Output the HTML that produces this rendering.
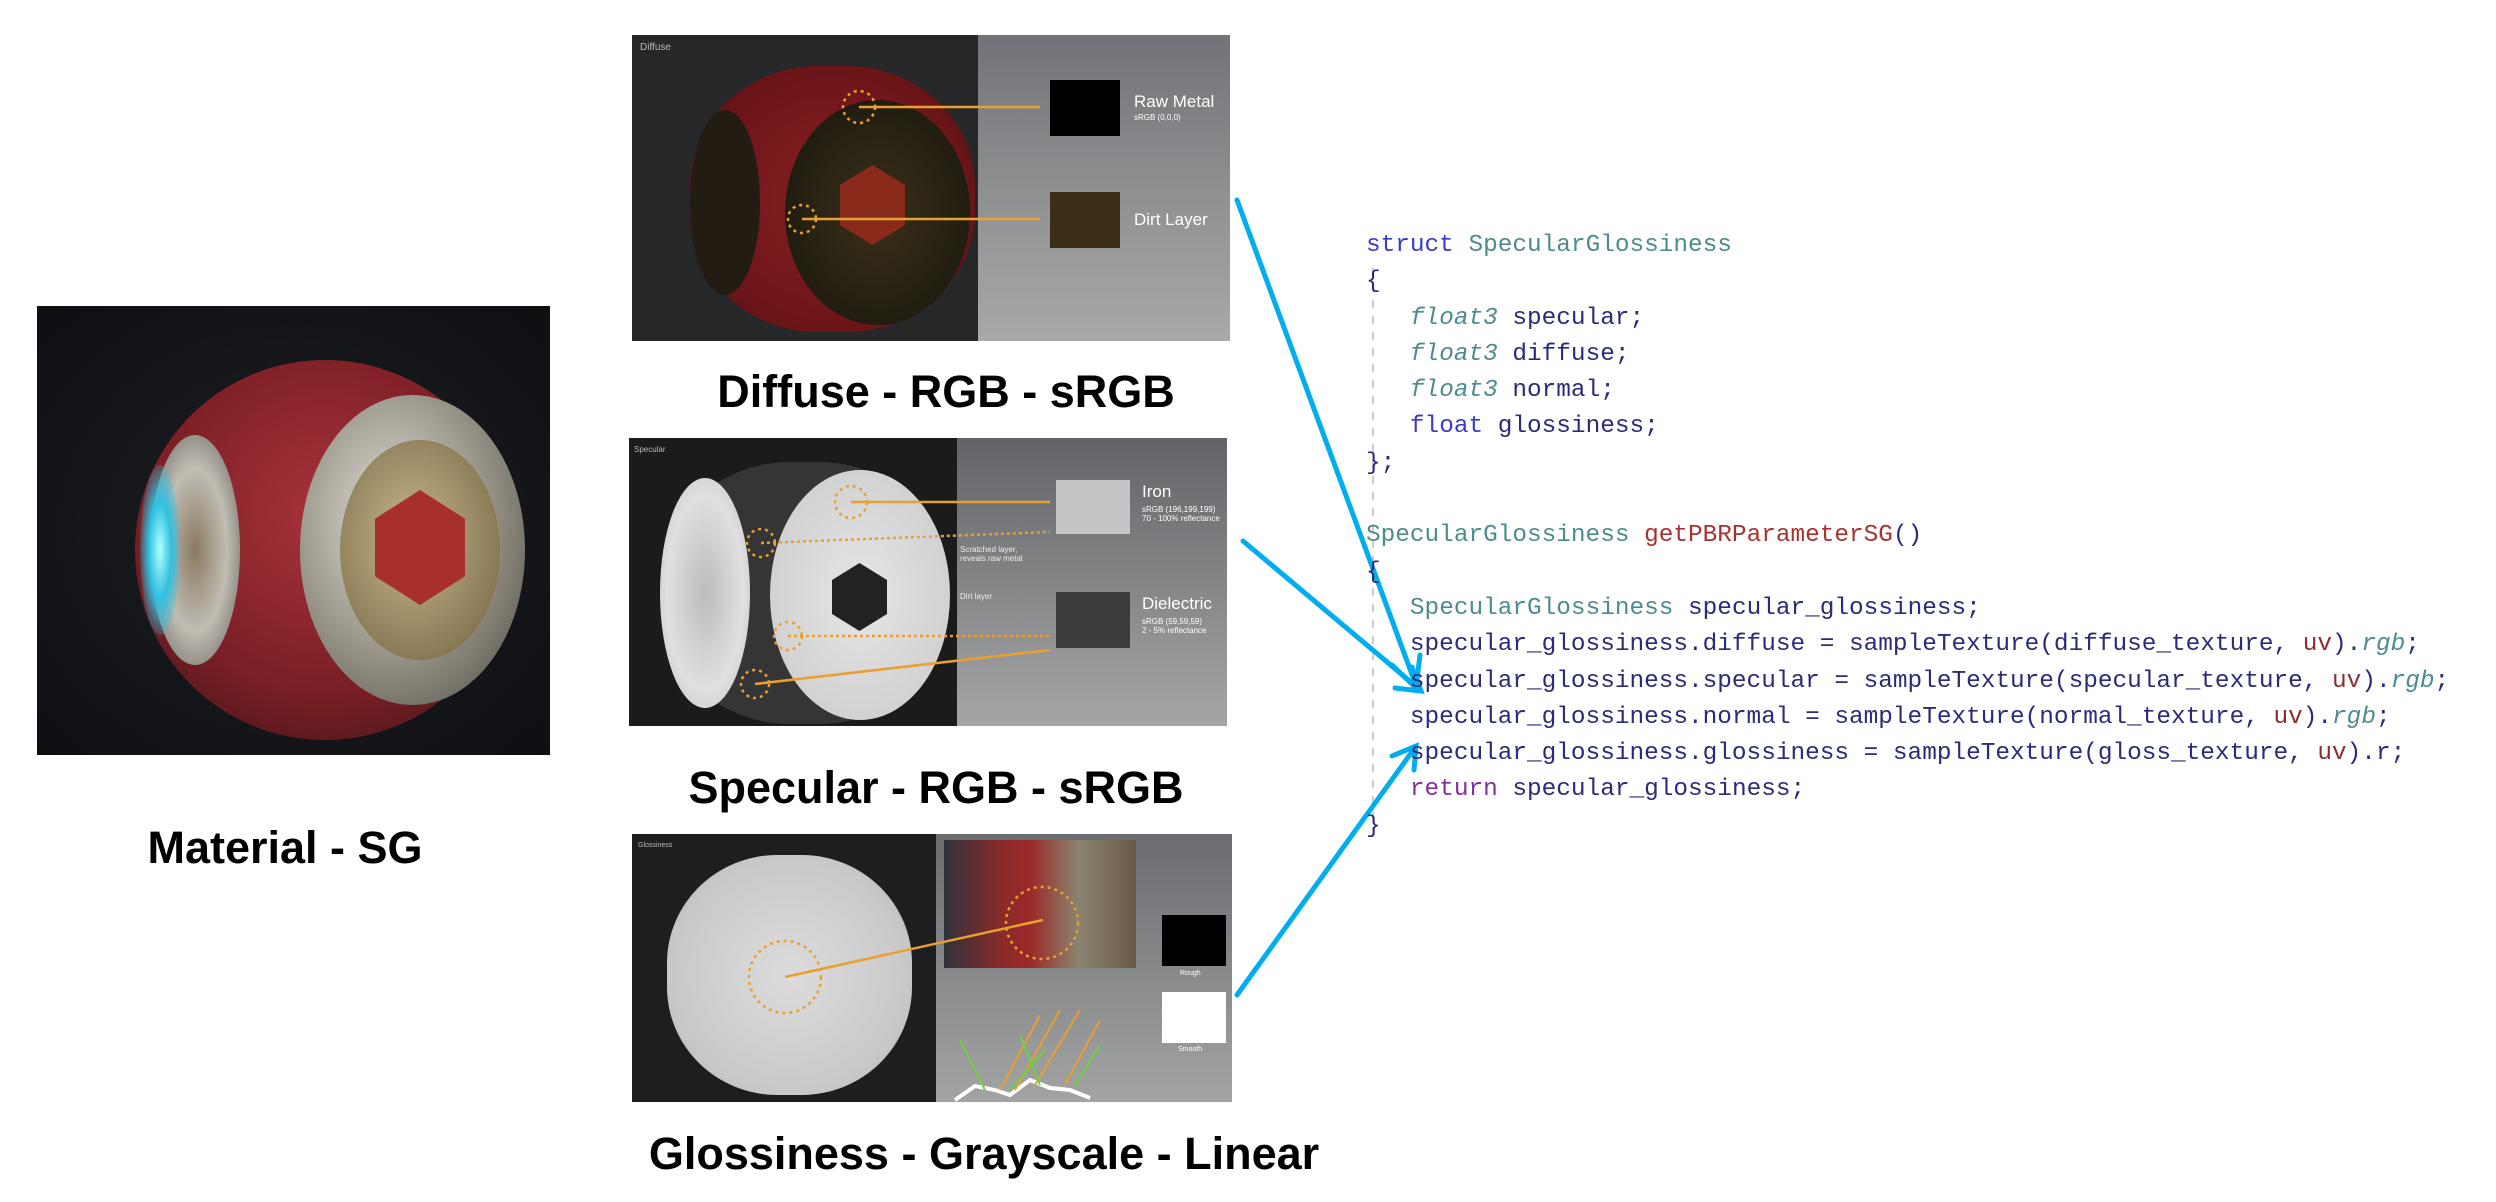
<!DOCTYPE html>
<html><head><meta charset="utf-8"><style>
*{margin:0;padding:0;box-sizing:border-box}
body{width:2496px;height:1202px;background:#fff;position:relative;overflow:hidden;font-family:"Liberation Sans",sans-serif}
.a{position:absolute}
.lbl{position:absolute;font-weight:bold;font-size:45px;color:#000;white-space:nowrap;transform:translateX(-50%)}
.code{position:absolute;left:1366px;top:228px;font-family:"Liberation Mono",monospace;font-size:24.4px;line-height:36.3px;color:#2b2b7a;white-space:pre}
.kw{color:#3a3acc}.ty{color:#4d8c8c}.it{color:#4d8c8c;font-style:italic}.fn{color:#a83232}.uv{color:#8b3030}.rt{color:#8030a0}
.sm{color:#fff;position:absolute;font-size:10px}
</style></head><body>

<!-- Material image -->
<div class="a" style="left:37px;top:306px;width:513px;height:449px;background:radial-gradient(ellipse at 50% 50%,#1e1f24 0%,#0e0f12 100%)"></div>
<div class="a" style="left:135px;top:360px;width:380px;height:380px;border-radius:50%;background:radial-gradient(circle at 50% 40%,#a8323a 0%,#7a1f25 60%,#3a1416 100%)"></div>
<div class="a" style="left:300px;top:395px;width:225px;height:310px;border-radius:50%;background:radial-gradient(ellipse at 40% 40%,#e0e0d8 0%,#9a968a 50%,#4a4842 100%)"></div>
<div class="a" style="left:340px;top:440px;width:160px;height:220px;border-radius:50%;background:radial-gradient(ellipse at 45% 45%,#c8b890 0%,#8a7a55 70%,#4a4030 100%)"></div>
<div class="a" style="left:375px;top:490px;width:90px;height:115px;background:#a8302c;clip-path:polygon(50% 0,100% 25%,100% 75%,50% 100%,0 75%,0 25%)"></div>
<div class="a" style="left:150px;top:435px;width:90px;height:230px;border-radius:50%;background:radial-gradient(ellipse at 50% 50%,#8a7a60 0%,#c0bdb4 50%,#5a5650 100%)"></div>
<div class="a" style="left:140px;top:465px;width:40px;height:170px;border-radius:50%;background:radial-gradient(ellipse,#b0ffff 0%,#30c0e0 40%,rgba(0,80,200,0) 80%)"></div>

<div class="lbl" style="left:285px;top:822px">Material - SG</div>

<!-- Diffuse panel -->
<div class="a" style="left:632px;top:35px;width:346px;height:306px;background:#262729"></div>
<div class="a" style="left:978px;top:35px;width:252px;height:306px;background:linear-gradient(#717378,#a8aaa9)"></div>
<div class="sm" style="left:640px;top:42px;color:#bbb">Diffuse</div>
<div class="a" style="left:690px;top:66px;width:285px;height:266px;border-radius:45%;background:radial-gradient(circle at 50% 50%,#8a1e22 0%,#6a1518 70%,#2a1410 100%)"></div>
<div class="a" style="left:785px;top:100px;width:185px;height:225px;border-radius:50%;background:radial-gradient(ellipse,#3a3018 0%,#1e1a10 80%)"></div>
<div class="a" style="left:840px;top:165px;width:65px;height:80px;background:#8a2a1a;clip-path:polygon(50% 0,100% 25%,100% 75%,50% 100%,0 75%,0 25%)"></div>
<div class="a" style="left:690px;top:110px;width:70px;height:185px;border-radius:50%;background:#221c12"></div>
<div class="a" style="left:1050px;top:80px;width:70px;height:56px;background:#000"></div>
<div class="a" style="left:1050px;top:192px;width:70px;height:56px;background:#3b2d17"></div>
<div class="a" style="left:1134px;top:92px;color:#fff;font-size:17px">Raw Metal</div>
<div class="sm" style="left:1134px;top:113px;font-size:8px">sRGB (0,0,0)</div>
<div class="a" style="left:1134px;top:210px;color:#fff;font-size:17px">Dirt Layer</div>

<div class="lbl" style="left:946px;top:366px">Diffuse - RGB - sRGB</div>

<!-- Specular panel -->
<div class="a" style="left:629px;top:438px;width:328px;height:288px;background:#1b1b1c"></div>
<div class="a" style="left:957px;top:438px;width:270px;height:288px;background:linear-gradient(#626468,#a4a6a6)"></div>
<div class="sm" style="left:634px;top:445px;font-size:8px;color:#bbb">Specular</div>
<div class="a" style="left:662px;top:462px;width:285px;height:262px;border-radius:45%;background:#353535"></div>
<div class="a" style="left:770px;top:470px;width:180px;height:250px;border-radius:50%;background:radial-gradient(ellipse,#e6e6e6 0%,#cfcfcf 80%,#aaa 100%)"></div>
<div class="a" style="left:660px;top:478px;width:90px;height:230px;border-radius:50%;background:radial-gradient(ellipse,#bcbcbc 0%,#e0e0e0 60%,#bbb 100%)"></div>
<div class="a" style="left:832px;top:563px;width:55px;height:68px;background:#222;clip-path:polygon(50% 0,100% 25%,100% 75%,50% 100%,0 75%,0 25%)"></div>
<div class="a" style="left:1056px;top:480px;width:74px;height:54px;background:#c4c6c6"></div>
<div class="a" style="left:1056px;top:592px;width:74px;height:56px;background:#3b3b3b"></div>
<div class="a" style="left:1142px;top:482px;color:#fff;font-size:17px">Iron</div>
<div class="sm" style="left:1142px;top:505px;font-size:8px">sRGB (196,199,199)<br>70 - 100% reflectance</div>
<div class="a" style="left:1142px;top:594px;color:#fff;font-size:17px">Dielectric</div>
<div class="sm" style="left:1142px;top:617px;font-size:8px">sRGB (59,59,59)<br>2 - 5% reflectance</div>
<div class="sm" style="left:960px;top:545px;font-size:8px;color:#eee">Scratched layer,<br>reveals raw metal</div>
<div class="sm" style="left:960px;top:592px;font-size:8px;color:#eee">Dirt layer</div>

<div class="lbl" style="left:936px;top:762px">Specular - RGB - sRGB</div>

<!-- Gloss panel -->
<div class="a" style="left:632px;top:834px;width:304px;height:268px;background:#1e1e20"></div>
<div class="a" style="left:936px;top:834px;width:296px;height:268px;background:linear-gradient(#6a6c70,#a2a4a4)"></div>
<div class="sm" style="left:638px;top:842px;font-size:7px;color:#bbb">Glossiness</div>
<div class="a" style="left:667px;top:855px;width:245px;height:240px;border-radius:45%;background:radial-gradient(circle,#dcdcdc 0%,#c8c8c8 70%,#9a9a9a 100%)"></div>
<div class="a" style="left:944px;top:840px;width:192px;height:128px;background:linear-gradient(90deg,#30323a 0%,#8a2a2a 30%,#9a2a28 45%,#8a8470 70%,#6a5a48 100%)"></div>
<div class="a" style="left:1162px;top:915px;width:64px;height:51px;background:#000"></div>
<div class="sm" style="left:1180px;top:970px;font-size:7px">Rough</div>
<div class="a" style="left:1162px;top:992px;width:64px;height:51px;background:#fff"></div>
<div class="sm" style="left:1178px;top:1046px;font-size:7px">Smooth</div>

<div class="lbl" style="left:984px;top:1128px">Glossiness - Grayscale - Linear</div>

<svg class="a" style="left:0;top:0" width="2496" height="1202">
<g stroke="#e8a030" stroke-width="2.5" fill="none">
<circle cx="859" cy="107" r="16" stroke-dasharray="3 4"/><line x1="859" y1="107" x2="1040" y2="107"/>
<circle cx="802" cy="219" r="14" stroke-dasharray="3 4"/><line x1="802" y1="219" x2="1040" y2="219"/>
<circle cx="851" cy="502" r="16" stroke-dasharray="3 4"/><line x1="851" y1="502" x2="1050" y2="502"/>
<circle cx="761" cy="543" r="14" stroke-dasharray="3 4"/><line x1="761" y1="543" x2="1050" y2="532" stroke-dasharray="3 3"/>
<circle cx="788" cy="636" r="14" stroke-dasharray="3 4"/><line x1="788" y1="636" x2="1050" y2="636" stroke-dasharray="3 3"/>
<circle cx="755" cy="684" r="14" stroke-dasharray="3 4"/><line x1="755" y1="684" x2="1050" y2="650"/>
<circle cx="785" cy="977" r="36" stroke-dasharray="3 4"/><line x1="785" y1="977" x2="1043" y2="920"/>
<circle cx="1042" cy="923" r="36" stroke-dasharray="3 4"/>
</g>
<polyline points="955,1100 975,1086 995,1090 1010,1095 1030,1080 1050,1088 1070,1090 1090,1098" stroke="#fff" stroke-width="4" fill="none"/>
<g stroke="#e8a030" stroke-width="2"><line x1="1000" y1="1090" x2="1040" y2="1015"/><line x1="1015" y1="1090" x2="1060" y2="1010"/><line x1="1035" y1="1085" x2="1080" y2="1010"/><line x1="1065" y1="1085" x2="1100" y2="1020"/></g>
<g stroke="#70d040" stroke-width="2"><line x1="985" y1="1090" x2="960" y2="1040"/><line x1="1010" y1="1090" x2="1045" y2="1050"/><line x1="1040" y1="1085" x2="1020" y2="1035"/><line x1="1075" y1="1085" x2="1100" y2="1045"/></g>
<line x1="1373" y1="268" x2="1373" y2="830" stroke="#bbb" stroke-width="1.5" stroke-dasharray="8 8"/>
<g stroke="#00aeef" stroke-width="5" fill="none" stroke-linecap="round">
<line x1="1237" y1="200" x2="1414" y2="680"/>
<polyline points="1392,665 1416,688 1420,655"/>
<line x1="1243" y1="541" x2="1418" y2="688"/>
<polyline points="1395,688 1421,691 1412,667"/>
<line x1="1237" y1="995" x2="1414" y2="749"/>
<polyline points="1392,756 1416,746 1414,770"/>
</g>
</svg>

<div class="code"><span class="kw">struct</span> <span class="ty">SpecularGlossiness</span>
{
   <span class="it">float3</span> specular;
   <span class="it">float3</span> diffuse;
   <span class="it">float3</span> normal;
   <span class="kw">float</span> glossiness;
};

<span class="ty">SpecularGlossiness</span> <span class="fn">getPBRParameterSG</span>()
{
   <span class="ty">SpecularGlossiness</span> specular_glossiness;
   specular_glossiness.diffuse = sampleTexture(diffuse_texture, <span class="uv">uv</span>).<span class="it">rgb</span>;
   specular_glossiness.specular = sampleTexture(specular_texture, <span class="uv">uv</span>).<span class="it">rgb</span>;
   specular_glossiness.normal = sampleTexture(normal_texture, <span class="uv">uv</span>).<span class="it">rgb</span>;
   specular_glossiness.glossiness = sampleTexture(gloss_texture, <span class="uv">uv</span>).r;
   <span class="rt">return</span> specular_glossiness;
}</div>
</body></html>
